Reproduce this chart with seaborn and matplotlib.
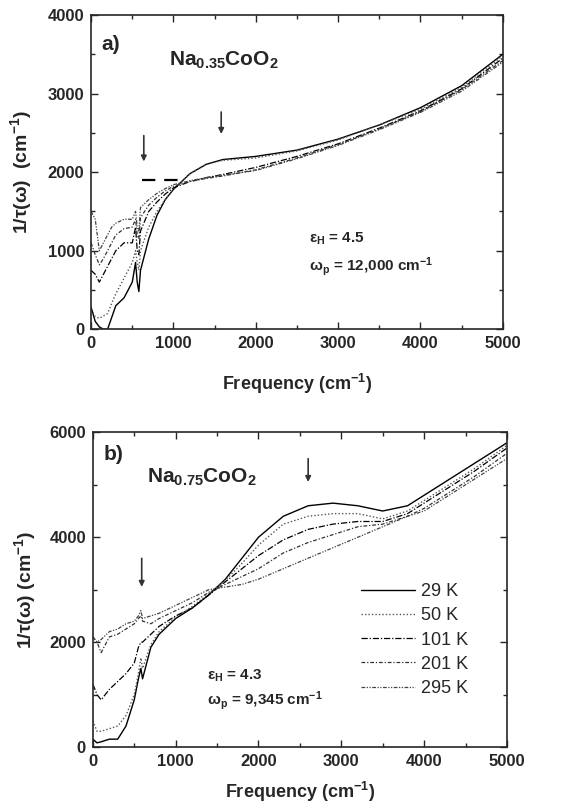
import pandas as pd
import matplotlib
matplotlib.use("Agg")
import matplotlib.pyplot as plt
from matplotlib.ticker import MultipleLocator
import seaborn as sns

# -----------------------------------
# DATA
# -----------------------------------

temps = ["29 K", "50 K", "101 K", "201 K", "295 K"]

freq_a = [0, 50, 100, 150, 200, 250, 300, 400, 500, 540, 560, 580, 600, 700, 800,
          900, 1000, 1200, 1400, 1600, 2000, 2500, 3000, 3500, 4000, 4500, 5000]
rate_a_29 = [280, 100, 30, 0, 0, 150, 300, 400, 600, 850, 600, 480, 750, 1150, 1450,
             1650, 1780, 1980, 2100, 2160, 2200, 2280, 2420, 2600, 2820, 3100, 3500]
rate_a_50 = [250, 160, 140, 170, 200, 330, 450, 650, 850, 1000, 850, 750, 1000, 1300, 1500,
             1650, 1780, 1980, 2100, 2150, 2180, 2270, 2410, 2600, 2800, 3080, 3480]
rate_a_101 = [750, 700, 600, 700, 800, 900, 1000, 1100, 1100, 1300, 1000, 950, 1250, 1500, 1620,
              1720, 1800, 1880, 1930, 1970, 2060, 2200, 2360, 2560, 2780, 3060, 3450]
rate_a_201 = [1100, 950, 820, 900, 1000, 1100, 1200, 1280, 1300, 1400, 1200, 1150, 1420, 1580, 1680,
              1760, 1820, 1880, 1920, 1950, 2030, 2180, 2350, 2550, 2770, 3050, 3420]
rate_a_295 = [1500, 1400, 1000, 1100, 1200, 1300, 1350, 1400, 1400, 1500, 1300, 1250, 1550, 1650, 1730,
              1790, 1840, 1890, 1930, 1960, 2020, 2170, 2340, 2540, 2760, 3030, 3400]

freq_b = [0, 50, 100, 200, 300, 400, 500, 550, 580, 600, 700, 800, 1000, 1200,
          1400, 1600, 1800, 2000, 2300, 2600, 2900, 3200, 3500, 3800, 4000, 4300, 4600, 5000]
rate_b_29 = [150, 80, 100, 150, 150, 400, 900, 1300, 1500, 1300, 1900, 2150, 2450, 2650,
             2900, 3200, 3600, 4000, 4400, 4600, 4650, 4600, 4500, 4600, 4800, 5100, 5400, 5800]
rate_b_50 = [500, 300, 300, 350, 400, 600, 1000, 1400, 1700, 1500, 1950, 2200, 2480, 2680,
             2920, 3180, 3500, 3850, 4250, 4400, 4450, 4450, 4350, 4500, 4700, 5000, 5300, 5750]
rate_b_101 = [1200, 1000, 900, 1100, 1250, 1400, 1600, 1900, 2000, 2000, 2150, 2300, 2500, 2650,
              2900, 3150, 3400, 3650, 3950, 4150, 4250, 4300, 4300, 4450, 4650, 4950, 5250, 5700]
rate_b_201 = [2100, 2000, 1800, 2100, 2150, 2250, 2350, 2450, 2500, 2400, 2350, 2450, 2600, 2750,
              2950, 3100, 3250, 3400, 3700, 3900, 4050, 4200, 4250, 4400, 4550, 4850, 5150, 5600]
rate_b_295 = [2100, 2000, 2050, 2200, 2250, 2350, 2400, 2500, 2600, 2450, 2500, 2550, 2700, 2850,
              3000, 3050, 3100, 3200, 3400, 3600, 3800, 4000, 4200, 4400, 4500, 4800, 5100, 5500]

# guide line in panel a
guide_x = [620, 1100]
guide_y = [1900, 1900]

# -----------------------------------
# STYLE
# -----------------------------------

sns.set_style("ticks")
plt.rcParams["font.family"] = ["Liberation Sans", "DejaVu Sans"]
plt.rcParams["mathtext.fontset"] = "custom"
plt.rcParams["mathtext.rm"] = "Liberation Sans:bold"
plt.rcParams["mathtext.it"] = "Liberation Sans:bold"
plt.rcParams["mathtext.bf"] = "Liberation Sans:bold"

styles = {
    "29 K": dict(ls="-", color="black", lw=1.0),
    "50 K": dict(ls=(0, (1, 1.5)), color="#555555", lw=1.0),
    "101 K": dict(ls=(0, (5, 1.5, 1, 1.5)), color="black", lw=0.9),
    "201 K": dict(ls=(0, (3, 1.5, 1, 1.5)), color="#333333", lw=0.9),
    "295 K": dict(ls=(0, (3, 1.2, 1, 1.2, 1, 1.2)), color="#444444", lw=0.9),
}

fig = plt.figure(figsize=(5.84, 8.09), dpi=100)
ax_a = fig.add_axes([0.156, 0.593, 0.705, 0.3885])
ax_b = fig.add_axes([0.159, 0.0766, 0.709, 0.389])


def setup(ax, ymax, ymajor, yminor, xpad):
    ax.set_xlim(0, 5000)
    ax.set_ylim(0, ymax)
    ax.xaxis.set_major_locator(MultipleLocator(1000))
    ax.xaxis.set_minor_locator(MultipleLocator(500))
    ax.yaxis.set_major_locator(MultipleLocator(ymajor))
    ax.yaxis.set_minor_locator(MultipleLocator(yminor))
    ax.tick_params(which="both", direction="in", top=True, right=True, width=1.0)
    ax.tick_params(which="major", length=5, labelsize=12, pad=5)
    ax.tick_params(which="minor", length=3)
    for lab in ax.get_xticklabels() + ax.get_yticklabels():
        lab.set_fontweight("bold")
    for sp in ax.spines.values():
        sp.set_linewidth(1.2)
    ax.set_xlabel("Frequency (cm$^{-1}$)", fontsize=13, fontweight="bold", labelpad=xpad)


# -----------------------------------
# PANEL A
# -----------------------------------

series_a = [rate_a_29, rate_a_50, rate_a_101, rate_a_201, rate_a_295]
for t, r in zip(temps, series_a):
    sns.lineplot(x=freq_a, y=r, ax=ax_a, **styles[t])
ax_a.plot(guide_x, guide_y, color="black", lw=1.6, ls=(0, (6, 4)))

setup(ax_a, 4000, 1000, 500, 15)
ax_a.set_ylabel("1/\u03c4(\u03c9)  (cm$^{-1}$)", fontsize=14, fontweight="bold", labelpad=10)

ax_a.text(130, 3550, "a)", fontsize=15, fontweight="bold")
ax_a.text(950, 3350, "Na$_{0.35}$CoO$_2$", fontsize=15, fontweight="bold")
ax_a.text(2650, 1100, "\u03b5$_H$ = 4.5", fontsize=11, fontweight="bold")
ax_a.text(2650, 750, "\u03c9$_p$ = 12,000 cm$^{-1}$", fontsize=11, fontweight="bold")

arrow = dict(arrowstyle="-|>", color="#333333", lw=1.2, mutation_scale=8)
ax_a.annotate("", xy=(640, 2100), xytext=(640, 2500), arrowprops=arrow)
ax_a.annotate("", xy=(1580, 2450), xytext=(1580, 2800), arrowprops=arrow)

# -----------------------------------
# PANEL B
# -----------------------------------

series_b = [rate_b_29, rate_b_50, rate_b_101, rate_b_201, rate_b_295]
for t, r in zip(temps, series_b):
    sns.lineplot(x=freq_b, y=r, ax=ax_b, label=t, **styles[t])

setup(ax_b, 6000, 2000, 1000, 8)
ax_b.set_ylabel("1/\u03c4(\u03c9) (cm$^{-1}$)", fontsize=14, fontweight="bold", labelpad=8)

ax_b.text(130, 5480, "b)", fontsize=15, fontweight="bold")
ax_b.text(650, 5040, "Na$_{0.75}$CoO$_2$", fontsize=15, fontweight="bold")
ax_b.text(1380, 1280, "\u03b5$_H$ = 4.3", fontsize=11, fontweight="bold")
ax_b.text(1380, 800, "\u03c9$_p$ = 9,345 cm$^{-1}$", fontsize=11, fontweight="bold")

ax_b.annotate("", xy=(590, 3000), xytext=(590, 3650), arrowprops=arrow)
ax_b.annotate("", xy=(2600, 5000), xytext=(2600, 5550), arrowprops=arrow)

leg = ax_b.legend(loc="center right", bbox_to_anchor=(0.945, 0.34), frameon=False,
                  fontsize=13, handlelength=3.0, labelspacing=0.4, handletextpad=0.3,
                  alignment="right", markerfirst=True)
for txt in leg.get_texts():
    txt.set_ha("right")

fig.savefig("out.png", dpi=100)
